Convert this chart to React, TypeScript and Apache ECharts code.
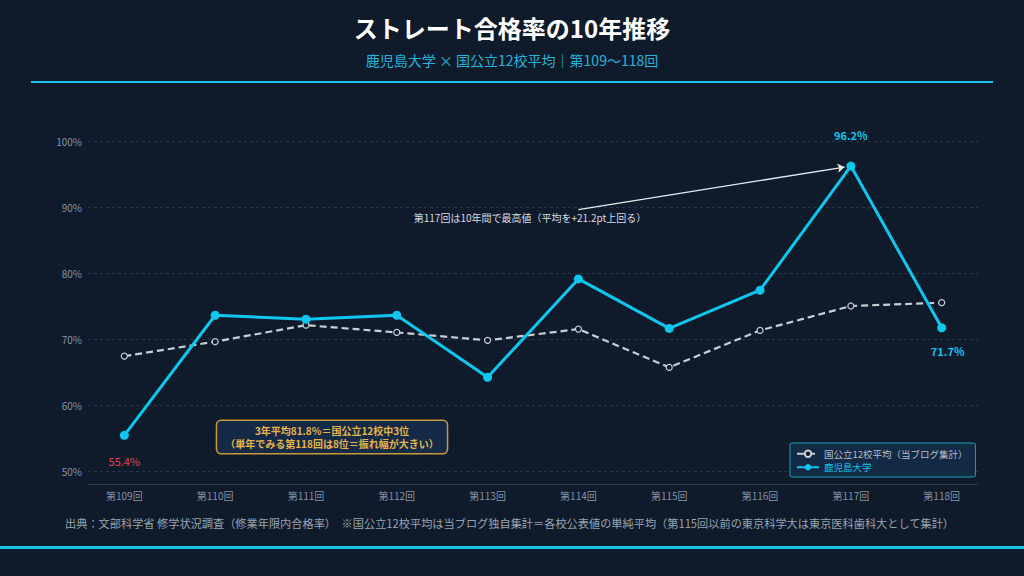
import React, { useEffect, useRef } from "react";
import * as echarts from "echarts";

const rounds = ["第109回", "第110回", "第111回", "第112回", "第113回", "第114回", "第115回", "第116回", "第117回", "第118回"];
const kagoshima = [55.4, 73.6, 73.0, 73.6, 64.2, 79.1, 71.6, 77.4, 96.2, 71.7];
const average = [67.4, 69.6, 72.1, 71.0, 69.8, 71.5, 65.7, 71.3, 75.0, 75.5];
const yTicks = [50, 60, 70, 80, 90, 100];

const FONT = '"Noto Sans CJK JP", "Noto Sans", sans-serif';
const BG = "#0f1b2b";
const CYAN = "#0fc6ee";

const App: React.FC = () => {
  const chartRef = useRef<HTMLDivElement>(null);

  useEffect(() => {
    if (!chartRef.current) return;
    const chart = echarts.init(chartRef.current, null, { renderer: "svg" });

    const pct = (p: any) => p.value[1].toFixed(1) + "%";
    const kagoData = kagoshima.map((v, i) => {
      const item: any = { value: [i, v] };
      if (i === 0) {
        item.label = { show: true, formatter: pct, position: "bottom", distance: 16, color: "#e0404f", fontSize: 11 };
      } else if (i === 8) {
        item.label = { show: true, formatter: pct, position: "top", distance: 21, color: CYAN, fontSize: 11, fontWeight: "bold" };
      } else if (i === 9) {
        item.label = { show: true, formatter: pct, position: "bottom", distance: 13, offset: [6, 0], color: CYAN, fontSize: 11, fontWeight: "bold" };
      }
      return item;
    });

    const option = {
      animation: false,
      backgroundColor: BG,
      textStyle: { fontFamily: FONT },
      title: {
        text: "ストレート合格率の10年推移",
        subtext: "鹿児島大学 × 国公立12校平均｜第109〜118回",
        left: "center",
        top: 10,
        itemGap: 14,
        textStyle: { color: "#ffffff", fontSize: 24, fontWeight: "bold", fontFamily: FONT },
        subtextStyle: { color: "#22b5dc", fontSize: 14, fontFamily: FONT },
      },
      legend: {
        orient: "vertical",
        left: 790,
        top: 443,
        padding: [6, 8, 5, 6],
        itemGap: 4,
        itemWidth: 22,
        itemHeight: 8,
        backgroundColor: "#132a45",
        borderColor: "#1a9cc0",
        borderWidth: 1,
        borderRadius: 2,
        textStyle: { fontSize: 9.5, fontFamily: FONT },
        data: [
          { name: "国公立12校平均（当ブログ集計）", textStyle: { color: "#b8bec8" } },
          { name: "鹿児島大学", textStyle: { color: CYAN } },
        ],
      },
      grid: { left: 88, right: 46, top: 141, bottom: 105 },
      xAxis: {
        type: "value",
        min: -0.4,
        max: 9.4,
        offset: 13,
        axisLine: { show: true, lineStyle: { color: "#2b3d55", width: 1 } },
        axisTick: { show: false },
        splitLine: { show: false },
        axisLabel: {
          customValues: rounds.map((_, i) => i),
          formatter: (v: number) => rounds[Math.round(v)] ?? "",
          color: "#8593a5",
          fontSize: 10,
          margin: 6,
        },
      },
      yAxis: {
        type: "value",
        min: yTicks[0],
        max: yTicks[yTicks.length - 1],
        interval: 10,
        axisLine: { show: false },
        axisTick: { show: false },
        axisLabel: { formatter: "{value}%", color: "#8593a5", fontSize: 10, margin: 6 },
        splitLine: { lineStyle: { color: "#24374f", type: [3, 3], width: 1 } },
      },
      series: [
        {
          name: "国公立12校平均（当ブログ集計）",
          type: "line",
          data: average.map((v, i) => [i, v]),
          symbol: "circle",
          symbolSize: 6,
          lineStyle: { color: "#c9ced6", width: 2.2, type: [7, 4] },
          itemStyle: { color: BG, borderColor: "#c9ced6", borderWidth: 1.2 },
          emphasis: { disabled: true },
          z: 2,
        },
        {
          name: "鹿児島大学",
          type: "line",
          data: kagoData,
          symbol: "circle",
          symbolSize: 9,
          lineStyle: { color: CYAN, width: 3 },
          itemStyle: { color: CYAN },
          emphasis: { disabled: true },
          z: 3,
          markLine: {
            silent: true,
            symbol: ["none", "arrow"],
            symbolSize: 7,
            label: { show: false },
            lineStyle: { color: "#e6eaef", width: 1.3, type: "solid" },
            data: [[{ coord: [5.0, 89.6] }, { coord: [7.93, 96.05] }]],
          },
        },
      ],
      graphic: [
        { type: "rect", shape: { x: 31, y: 81, width: 962, height: 2 }, style: { fill: "#19c3ea" } },
        { type: "rect", shape: { x: 0, y: 546, width: 1024, height: 3 }, style: { fill: "#19c3ea" } },
        {
          type: "text",
          x: 530,
          y: 217,
          style: {
            text: "第117回は10年間で最高値（平均を+21.2pt上回る）",
            fill: "#d8dce2",
            fontSize: 10,
            fontFamily: FONT,
            align: "center",
            verticalAlign: "middle",
          },
        },
        {
          type: "text",
          x: 332,
          y: 437,
          style: {
            text: "3年平均81.8%＝国公立12校中3位\n（単年でみる第118回は8位＝振れ幅が大きい）",
            fill: "#e5b54a",
            fontSize: 10,
            fontWeight: "bold",
            lineHeight: 13,
            fontFamily: FONT,
            align: "center",
            verticalAlign: "middle",
            backgroundColor: "#152a47",
            borderColor: "#c99a3a",
            borderWidth: 1.5,
            borderRadius: 4,
            padding: [3, 8],
          },
        },
        {
          type: "text",
          x: 65,
          y: 523,
          style: {
            text: "出典：文部科学省 修学状況調査（修業年限内合格率）　※国公立12校平均は当ブログ独自集計＝各校公表値の単純平均（第115回以前の東京科学大は東京医科歯科大として集計）",
            fill: "#9aa4b0",
            fontSize: 11.2,
            fontFamily: FONT,
            verticalAlign: "middle",
          },
        },
      ],
    };

    chart.setOption(option as any);
    return () => {
      chart.dispose();
    };
  }, []);

  return <div ref={chartRef} style={{ position: "fixed", left: 0, top: 0, width: 1024, height: 576 }} />;
};

export default App;
